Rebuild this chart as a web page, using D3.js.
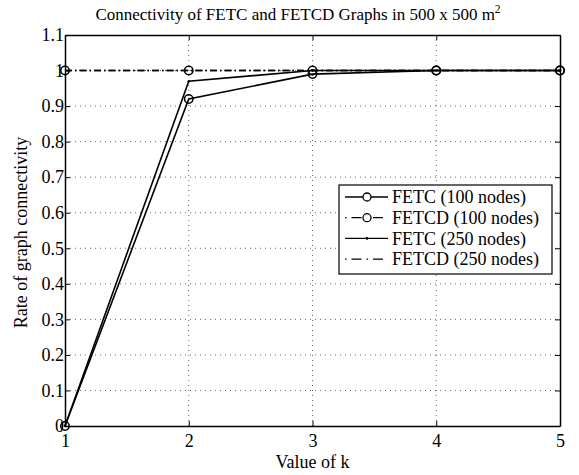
<!DOCTYPE html>
<html>
<head>
<meta charset="utf-8">
<script src="https://cdn.jsdelivr.net/npm/d3@7"></script>
<style>
  body { margin: 0; background: #fff; }
  text { font-family: "Liberation Serif", "DejaVu Serif", serif; fill: #000; }
</style>
</head>
<body>
<div id="chart"></div>
<script>
const kValues = [1, 2, 3, 4, 5];
const fetc100 = [0, 0.92, 0.99, 1, 1];
const fetcd100 = [1, 1, 1, 1, 1];
const fetc250 = [0, 0.97, 1, 1, 1];
const fetcd250 = [1, 1, 1, 1, 1];
const yTicks = [0, 0.1, 0.2, 0.3, 0.4, 0.5, 0.6, 0.7, 0.8, 0.9, 1, 1.1];
const seriesNames = ["FETC (100 nodes)", "FETCD (100 nodes)", "FETC (250 nodes)", "FETCD (250 nodes)"];

const W = 579, H = 475;
const M = { left: 65, right: 19, top: 35, bottom: 49 };
const iw = W - M.left - M.right, ih = H - M.top - M.bottom;

const svg = d3.select("#chart").append("svg")
  .attr("width", W).attr("height", H);

const g = svg.append("g").attr("transform", `translate(${M.left},${M.top})`);

const x = d3.scaleLinear().domain([1, 5]).range([0, iw]);
const y = d3.scaleLinear().domain([0, 1.1]).range([ih, 0]);

// dotted grid
g.append("g").selectAll("line").data(kValues.slice(1, -1)).join("line")
  .attr("x1", d => x(d)).attr("x2", d => x(d))
  .attr("y1", 0).attr("y2", ih)
  .attr("stroke", "#000").attr("stroke-width", 0.6).attr("stroke-dasharray", "1,4");
g.append("g").selectAll("line").data(yTicks.slice(1, -1)).join("line")
  .attr("x1", 0).attr("x2", iw)
  .attr("y1", d => y(d)).attr("y2", d => y(d))
  .attr("stroke", "#000").attr("stroke-width", 0.6).attr("stroke-dasharray", "1,4");

// axes
const xAxis = g.append("g").attr("transform", `translate(0,${ih})`)
  .call(d3.axisBottom(x).tickValues(kValues).tickFormat(d3.format("d")).tickSizeInner(-5).tickSizeOuter(0));
const xTop = g.append("g")
  .call(d3.axisTop(x).tickValues(kValues).tickFormat("").tickSizeInner(-5).tickSizeOuter(0));
const yAxis = g.append("g")
  .call(d3.axisLeft(y).tickValues(yTicks).tickFormat(d => d3.format("")(+d.toFixed(1))).tickSizeInner(-5).tickSizeOuter(0));
const yRight = g.append("g").attr("transform", `translate(${iw},0)`)
  .call(d3.axisRight(y).tickValues(yTicks).tickFormat("").tickSizeInner(-5).tickSizeOuter(0));

[xAxis, xTop, yAxis, yRight].forEach(a => {
  a.select(".domain").attr("stroke", "#000").attr("stroke-width", 1.5);
  a.selectAll(".tick line").attr("stroke", "#000");
  a.selectAll("text").style("font-size", "18px").style("font-family", "Liberation Serif, serif");
});
xAxis.selectAll("text").attr("y", 21).attr("dy", null);
yAxis.selectAll("text").attr("x", -1);

const line = d3.line().x((d, i) => x(kValues[i])).y(d => y(d));

// series
const series = [
  { vals: fetcd250, dash: "7,3,1.5,3", marker: null },
  { vals: fetc250, dash: null, marker: "dot" },
  { vals: fetcd100, dash: "7,3,1.5,3", marker: "circle" },
  { vals: fetc100, dash: null, marker: "circle" }
];

series.forEach(s => {
  g.append("path").datum(s.vals)
    .attr("d", line)
    .attr("fill", "none").attr("stroke", "#000").attr("stroke-width", 1.6)
    .attr("stroke-dasharray", s.dash);
  if (s.marker === "circle") {
    g.append("g").selectAll("circle").data(s.vals).join("circle")
      .attr("cx", (d, i) => x(kValues[i])).attr("cy", d => y(d))
      .attr("r", 4.2).attr("fill", "none").attr("stroke", "#000").attr("stroke-width", 1.5);
  } else if (s.marker === "dot") {
    g.append("g").selectAll("circle").data(s.vals).join("circle")
      .attr("cx", (d, i) => x(kValues[i])).attr("cy", d => y(d))
      .attr("r", 1.2).attr("fill", "#000");
  }
});

// title
const title = svg.append("text").attr("x", 298).attr("y", 20).attr("text-anchor", "middle")
  .style("font-size", "17px");
title.append("tspan").text("Connectivity of FETC and FETCD Graphs in 500 x 500 m");
title.append("tspan").attr("dy", -7).style("font-size", "11.5px").text("2");

// axis labels
svg.append("text").attr("x", M.left + x(3)).attr("y", 468).attr("text-anchor", "middle")
  .style("font-size", "18px").text("Value of k");
svg.append("text").attr("transform", `translate(21,${M.top + ih / 2 + 2}) rotate(-90)`)
  .attr("text-anchor", "middle").attr("dy", "0.35em")
  .style("font-size", "18px").text("Rate of graph connectivity");

// legend
const lg = svg.append("g").attr("transform", "translate(339,185)");
lg.append("rect").attr("width", 213).attr("height", 89)
  .attr("fill", "#fff").attr("stroke", "#000").attr("stroke-width", 1.2);
const legendStyles = [
  { dash: null, marker: "circle" },
  { dash: "1.5,5,10,5", marker: "circle" },
  { dash: null, marker: "dot" },
  { dash: "1.5,5,10,5", marker: null }
];
seriesNames.forEach((name, i) => {
  const ry = 12 + i * 20.7;
  const st = legendStyles[i];
  lg.append("line").attr("x1", 6).attr("x2", 49).attr("y1", ry).attr("y2", ry)
    .attr("stroke", "#000").attr("stroke-width", 1.3).attr("stroke-dasharray", st.dash);
  if (st.marker === "circle") {
    lg.append("circle").attr("cx", 28).attr("cy", ry).attr("r", 4)
      .attr("fill", "#fff").attr("stroke", "#000").attr("stroke-width", 1.3);
  } else if (st.marker === "dot") {
    lg.append("circle").attr("cx", 28).attr("cy", ry).attr("r", 1.3).attr("fill", "#000");
  }
  lg.append("text").attr("x", 53).attr("y", ry).attr("dy", "0.35em")
    .style("font-size", "18px").text(name);
});
</script>
</body>
</html>
